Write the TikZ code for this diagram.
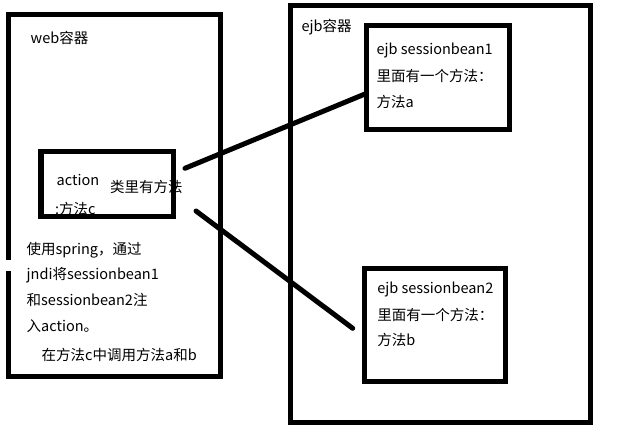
\documentclass[tikz,border=0pt]{standalone}
\usepackage{fontspec}
\setmainfont{Noto Sans CJK SC}
\begin{document}
\begin{tikzpicture}[x=1bp,y=-1bp,
  frame/.style={line width=5bp,draw=black},
  lbl/.style={anchor=west,inner sep=0pt,outer sep=0pt,font=\fontsize{14.5bp}{17bp}\selectfont,text=black},
  link/.style={line width=5bp,line cap=round}]
\useasboundingbox (0,0) rectangle (622,442);
% web container with a small gap on its left side
\draw[frame] (8.5,260) -- (8.5,14.7) -- (220,14.7) -- (220,376) -- (8.5,376) -- (8.5,271);
% ejb container
\draw[frame] (290,6) rectangle (590.5,422.5);
% boxes
\node[frame,inner sep=0pt,minimum width=132.5bp,minimum height=65bp] (action) at (107.25,184.5) {};
\node[frame,inner sep=0pt,minimum width=143bp,minimum height=104bp] (sb1) at (437.5,78) {};
\node[frame,inner sep=0pt,minimum width=141bp,minimum height=112.5bp] (sb2) at (434.5,324.75) {};
% texts
\node[lbl] (webt) at (30.7,37.5) {web容器};
\node[lbl] (ejbt) at (301.7,27.5) {ejb容器};
\node[lbl] (s1a) at (376.7,50) {ejb sessionbean1};
\node[lbl] (s1b) at (376.7,76) {里面有一个方法：};
\node[lbl] (s1c) at (376.7,101.5) {方法a};
\node[lbl] (s2a) at (377.3,289) {ejb sessionbean2};
\node[lbl] (s2b) at (377.3,315) {里面有一个方法：};
\node[lbl] (s2c) at (377.3,340) {方法b};
\node[lbl] (act1) at (56.7,180) {action};
\node[lbl] (act2) at (110,186.5) {类里有方法};
\node[lbl] (act3) at (55,209) {:方法c};
\node[lbl] (t1) at (26.7,250) {使用spring，通过};
\node[lbl] (t2) at (26.7,275) {jndi将sessionbean1};
\node[lbl] (t3) at (26.7,300) {和sessionbean2注};
\node[lbl] (t4) at (26.7,326.5) {入action。};
\node[lbl] (t5) at (41.7,355) {在方法c中调用方法a和b};
% connectors
\coordinate (l1s) at (185,168.3);
\coordinate (l1e) at (365,94);
\coordinate (l2s) at (196,211);
\coordinate (l2e) at (352.7,328.3);
\draw[link] (l1s) -- (l1e);
\draw[link] (l2s) -- (l2e);
\end{tikzpicture}
\end{document}
